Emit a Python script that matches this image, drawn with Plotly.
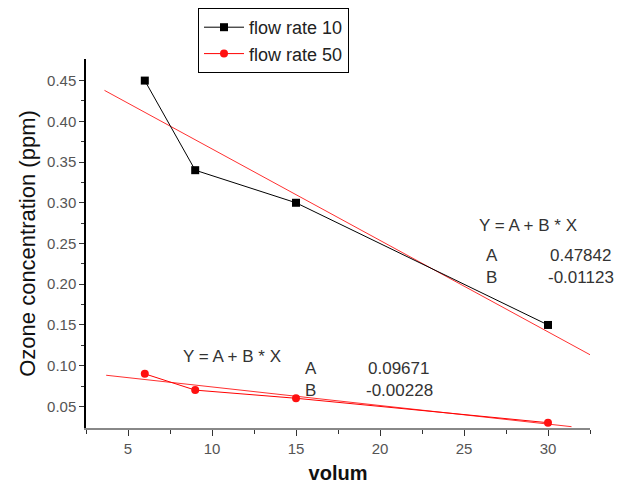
import plotly.graph_objects as go

volume = [6, 9, 15, 30]
flow10 = [0.45, 0.34, 0.30, 0.15]
flow50 = [0.09, 0.07, 0.06, 0.03]

fit10_A, fit10_B = 0.47842, -0.01123
fit50_A, fit50_B = 0.09671, -0.00228
fit10_x = [3.6, 32.5]
fit50_x = [3.7, 31.4]

fit10_y = [fit10_A + fit10_B * x for x in fit10_x]
fit50_y = [fit50_A + fit50_B * x for x in fit50_x]

font = "Liberation Sans, Arial, sans-serif"

fig = go.Figure()
fig.add_trace(go.Scatter(x=fit10_x, y=fit10_y, mode="lines", line=dict(color="#ff3030", width=1),
                         showlegend=False, hoverinfo="skip"))
fig.add_trace(go.Scatter(x=fit50_x, y=fit50_y, mode="lines", line=dict(color="#ff3030", width=1),
                         showlegend=False, hoverinfo="skip"))
fig.add_trace(go.Scatter(x=volume, y=flow10, mode="lines+markers", name="flow rate 10",
                         line=dict(color="black", width=1),
                         marker=dict(symbol="square", size=8, color="black")))
fig.add_trace(go.Scatter(x=volume, y=flow50, mode="lines+markers", name="flow rate 50",
                         line=dict(color="#ff0000", width=1),
                         marker=dict(symbol="circle", size=8, color="#ff1010")))

L, R, T, B = 86, 29, 59, 60
W, H = 619, 488
pw = W - L - R
ph = H - T - B

def px2paper(px, py):
    return (px - L) / pw, (H - B - py) / ph

ann_font = dict(family=font, size=17, color="#333333")
anns = [
    (477, 225, "Y = A + B * X"), (484, 255, "A"), (548, 255, "0.47842"),
    (484, 277, "B"), (546, 277, "-0.01123"),
    (181, 356, "Y = A + B * X"), (303, 368, "A"), (366, 368, "0.09671"),
    (303, 390, "B"), (364, 390, "-0.00228"),
]
annotations = []
for px, py, t in anns:
    ax, ay = px2paper(px, py)
    annotations.append(dict(x=ax, y=ay, xref="paper", yref="paper", text=t,
                            showarrow=False, xanchor="left", yanchor="middle", font=ann_font))

lx, ly = px2paper(198, 8)

fig.update_layout(
    width=W, height=H,
    margin=dict(l=L, r=R, t=T, b=B, autoexpand=False),
    paper_bgcolor="white", plot_bgcolor="white",
    font=dict(family=font),
    annotations=annotations,
    legend=dict(x=lx, y=ly, xanchor="left", yanchor="top",
                bordercolor="black", borderwidth=1, bgcolor="white",
                font=dict(family=font, size=18, color="#222222"),
                tracegroupgap=0, itemwidth=40),
    xaxis=dict(range=[2.5, 32.5], tickvals=[5, 10, 15, 20, 25, 30], showgrid=False, zeroline=False,
               showline=True, linecolor="#888888", linewidth=2, ticks="outside", ticklen=6,
               tickcolor="#333333", tickfont=dict(family=font, size=15, color="#555555"),
               minor=dict(tickvals=[2.5, 7.5, 12.5, 17.5, 22.5, 27.5, 32.5], ticks="outside",
                          ticklen=4, tickcolor="#333333"),
               title=dict(text="<b>volum</b>", font=dict(family=font, size=20, color="#111111"),
                          standoff=10)),
    yaxis=dict(range=[0.0235, 0.4765], tickvals=[0.05, 0.10, 0.15, 0.20, 0.25, 0.30, 0.35, 0.40, 0.45],
               tickformat=".2f", showgrid=False, zeroline=False,
               showline=True, linecolor="black", linewidth=1.5, ticks="outside", ticklen=5,
               tickcolor="#333333", tickfont=dict(family=font, size=15, color="#555555"),
               minor=dict(tickvals=[0.075, 0.125, 0.175, 0.225, 0.275, 0.325, 0.375, 0.425],
                          ticks="outside", ticklen=3, tickcolor="#333333"),
               title=dict(text="Ozone concentration (ppm)", font=dict(family=font, size=22, color="#111111"),
                          standoff=5)),
)

fig.write_html("out.html")
